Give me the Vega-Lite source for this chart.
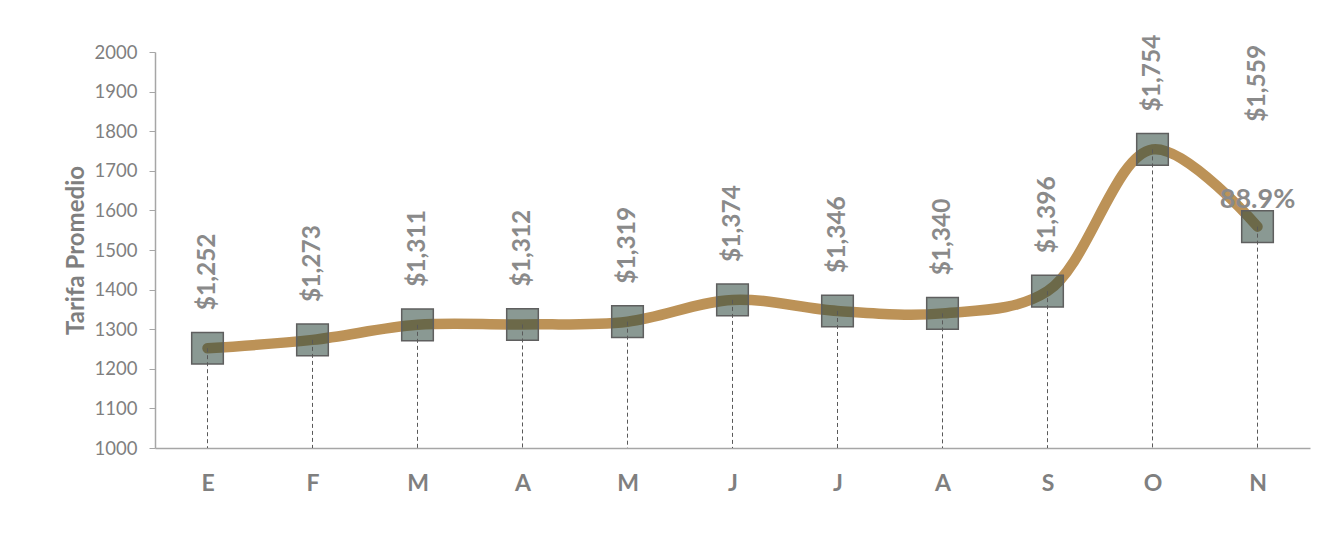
{
  "$schema": "https://vega.github.io/schema/vega-lite/v6.json",
  "width": 1155,
  "height": 396,
  "autosize": {"type": "none"},
  "padding": {"left": 155, "top": 52, "right": 23, "bottom": 106},
  "background": "white",
  "config": {
    "view": {"stroke": null},
    "font": "Lato",
    "axis": {"grid": false}
  },
  "data": {
    "values": [
      {"n": 1, "mes": "E", "tarifa": 1252, "etiqueta": "$1,252"},
      {"n": 2, "mes": "F", "tarifa": 1273, "etiqueta": "$1,273"},
      {"n": 3, "mes": "M", "tarifa": 1311, "etiqueta": "$1,311"},
      {"n": 4, "mes": "A", "tarifa": 1312, "etiqueta": "$1,312"},
      {"n": 5, "mes": "M", "tarifa": 1319, "etiqueta": "$1,319"},
      {"n": 6, "mes": "J", "tarifa": 1374, "etiqueta": "$1,374"},
      {"n": 7, "mes": "J", "tarifa": 1346, "etiqueta": "$1,346"},
      {"n": 8, "mes": "A", "tarifa": 1340, "etiqueta": "$1,340"},
      {"n": 9, "mes": "S", "tarifa": 1396, "etiqueta": "$1,396"},
      {"n": 10, "mes": "O", "tarifa": 1754, "etiqueta": "$1,754"},
      {"n": 11, "mes": "N", "tarifa": 1559, "etiqueta": "$1,559", "nota": "88.9%"}
    ]
  },
  "encoding": {
    "x": {
      "field": "n",
      "type": "ordinal",
      "scale": {"type": "point", "padding": 0.5},
      "axis": {
        "title": null,
        "labelAngle": 0,
        "labelExpr": "['E','F','M','A','M','J','J','A','S','O','N'][datum.value-1]",
        "labelFont": "Lato",
        "labelFontSize": 23,
        "labelFontWeight": "bold",
        "labelColor": "#7f7f7f",
        "labelPadding": 24,
        "ticks": false,
        "domainColor": "#a6a6a6",
        "domainWidth": 1.5
      }
    },
    "y": {
      "field": "tarifa",
      "type": "quantitative",
      "scale": {"domain": [1000, 2000], "nice": false, "zero": false},
      "axis": {
        "title": "Tarifa Promedio",
        "titleFont": "Lato",
        "titleFontSize": 24,
        "titleFontWeight": "bold",
        "titleColor": "#7f7f7f",
        "titlePadding": 6,
        "values": [1000, 1100, 1200, 1300, 1400, 1500, 1600, 1700, 1800, 1900, 2000],
        "format": "d",
        "labelFont": "Lato",
        "labelFontSize": 18.5,
        "labelColor": "#7f7f7f",
        "labelPadding": 12,
        "tickSize": 6,
        "tickColor": "#a6a6a6",
        "domainColor": "#a6a6a6",
        "domainWidth": 1.5
      }
    }
  },
  "layer": [
    {
      "mark": {"type": "line", "interpolate": "catmull-rom", "color": "#bc9257", "strokeWidth": 10.5, "strokeCap": "round", "strokeJoin": "round"}
    },
    {
      "mark": {"type": "point", "shape": "square", "size": 1000, "filled": true, "fill": "#2f4a3f", "fillOpacity": 0.56, "stroke": "#5f5f5f", "strokeWidth": 1.5, "strokeOpacity": 1}
    },
    {
      "mark": {"type": "rule", "color": "#595959", "strokeWidth": 1, "strokeDash": [4, 3]},
      "encoding": {"y2": {"datum": 1000}}
    },
    {
      "transform": [{"filter": "datum.n < 11"}],
      "mark": {"type": "text", "angle": 270, "align": "left", "baseline": "middle", "dx": 38, "font": "Lato", "fontSize": 24.5, "fontWeight": "bold", "color": "#8a8a8a"},
      "encoding": {"text": {"field": "etiqueta"}}
    },
    {
      "transform": [{"filter": "datum.n == 11"}],
      "mark": {"type": "text", "angle": 270, "align": "left", "baseline": "middle", "dx": 105, "font": "Lato", "fontSize": 24.5, "fontWeight": "bold", "color": "#8a8a8a"},
      "encoding": {"text": {"field": "etiqueta"}}
    },
    {
      "transform": [{"filter": "isValid(datum.nota)"}],
      "mark": {"type": "text", "align": "center", "baseline": "middle", "dy": -27, "font": "Lato", "fontSize": 27, "fontWeight": "bold", "color": "#8a8a8a"},
      "encoding": {"text": {"field": "nota"}}
    }
  ]
}
